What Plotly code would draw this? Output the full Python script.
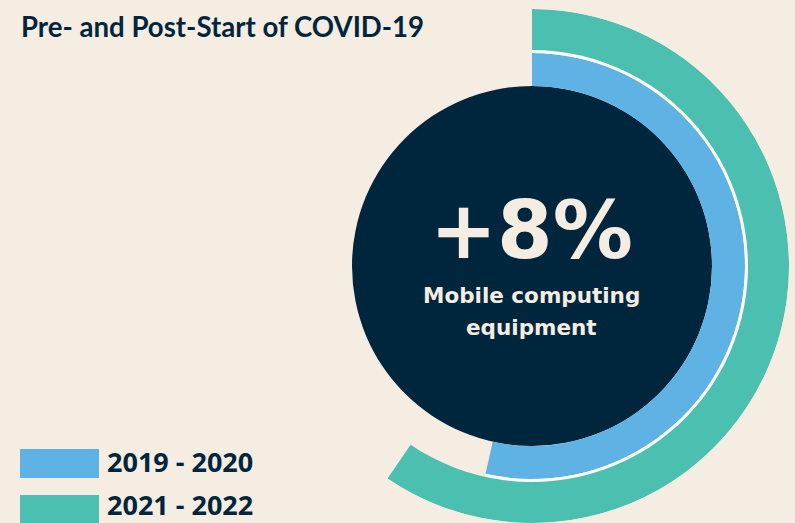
import plotly.graph_objects as go

# ---- data ----
periods = ["2019 - 2020", "2021 - 2022"]
shares = [53.5, 59.5]          # percent of full circle covered by each arc
headline = "+8%"
subtitle_lines = ["Mobile computing", "equipment"]
title_text = "Pre- and Post-Start of COVID-19"

# ---- style ----
W, H = 795, 523
BG = "#F5EDE1"
NAVY = "#00263E"
BLUE = "#5EB3E4"
TEAL = "#4BC0B1"
CREAM = "#F5EDE1"
colors = [BLUE, TEAL]

R_MAX = 257
cx, cy = 532, 266  # pixel centre


def px(x):
    return x / W


def py(y):
    return 1 - y / H


fig = go.Figure()

# central disc
fig.add_trace(go.Barpolar(r=[180], base=0, theta=[180], width=[360],
                          marker=dict(color=NAVY, line=dict(width=0)),
                          showlegend=False, hoverinfo="skip"))

# inner (blue) arc
fig.add_trace(go.Barpolar(r=[33], base=180, theta=[shares[0] * 3.6 / 2],
                          width=[shares[0] * 3.6], name=periods[0],
                          marker=dict(color=colors[0], line=dict(width=0)),
                          showlegend=False))
# white separator along blue arc
fig.add_trace(go.Barpolar(r=[3], base=213, theta=[shares[0] * 3.6 / 2],
                          width=[shares[0] * 3.6],
                          marker=dict(color="white", line=dict(width=0)),
                          showlegend=False, hoverinfo="skip"))
# outer (teal) arc
fig.add_trace(go.Barpolar(r=[R_MAX - 216], base=216, theta=[shares[1] * 3.6 / 2],
                          width=[shares[1] * 3.6], name=periods[1],
                          marker=dict(color=colors[1], line=dict(width=0)),
                          showlegend=False))

fig.update_layout(
    width=W, height=H,
    margin=dict(l=0, r=0, t=0, b=0),
    paper_bgcolor=BG, plot_bgcolor=BG,
    polar=dict(
        domain=dict(x=[(cx - R_MAX) / W, (cx + R_MAX) / W],
                    y=[(H - cy - R_MAX) / H, (H - cy + R_MAX) / H]),
        bgcolor="rgba(0,0,0,0)",
        radialaxis=dict(visible=False, range=[0, R_MAX]),
        angularaxis=dict(visible=False, rotation=90, direction="clockwise"),
    ),
    showlegend=False,
)

annotations = []
# title
annotations.append(dict(x=px(19), y=py(26), xref="paper", yref="paper",
                        xanchor="left", yanchor="middle", showarrow=False,
                        text="<b>" + title_text + "</b>",
                        font=dict(family="Lato", size=27.6, color=NAVY)))
# headline
annotations.append(dict(x=px(531), y=py(230), xref="paper", yref="paper",
                        xanchor="center", yanchor="middle", showarrow=False,
                        text="<b>" + headline + "</b>",
                        font=dict(family="DejaVu Sans", size=80, color=CREAM)))
sub_mid = [295, 327]
for line, ym in zip(subtitle_lines, sub_mid):
    annotations.append(dict(x=px(531), y=py(ym), xref="paper", yref="paper",
                            xanchor="center", yanchor="middle", showarrow=False,
                            text="<b>" + line + "</b>",
                            font=dict(family="DejaVu Sans", size=21.5, color=CREAM)))

# legend
shapes = []
sw_top = [449, 495]
lab_mid = [461.5, 504.5]
for i, (lab, col) in enumerate(zip(periods, colors)):
    t = sw_top[i]
    shapes.append(dict(type="rect", xref="paper", yref="paper",
                       x0=px(20), x1=px(99), y0=py(t + 29), y1=py(t),
                       fillcolor=col, line=dict(width=0)))
    annotations.append(dict(x=px(105), y=py(lab_mid[i]), xref="paper", yref="paper",
                            xanchor="left", yanchor="middle", showarrow=False,
                            text="<b>" + lab + "</b>",
                            font=dict(family="Open Sans", size=27, color=NAVY)))

fig.update_layout(annotations=annotations, shapes=shapes)
fig.write_html("out.html")
